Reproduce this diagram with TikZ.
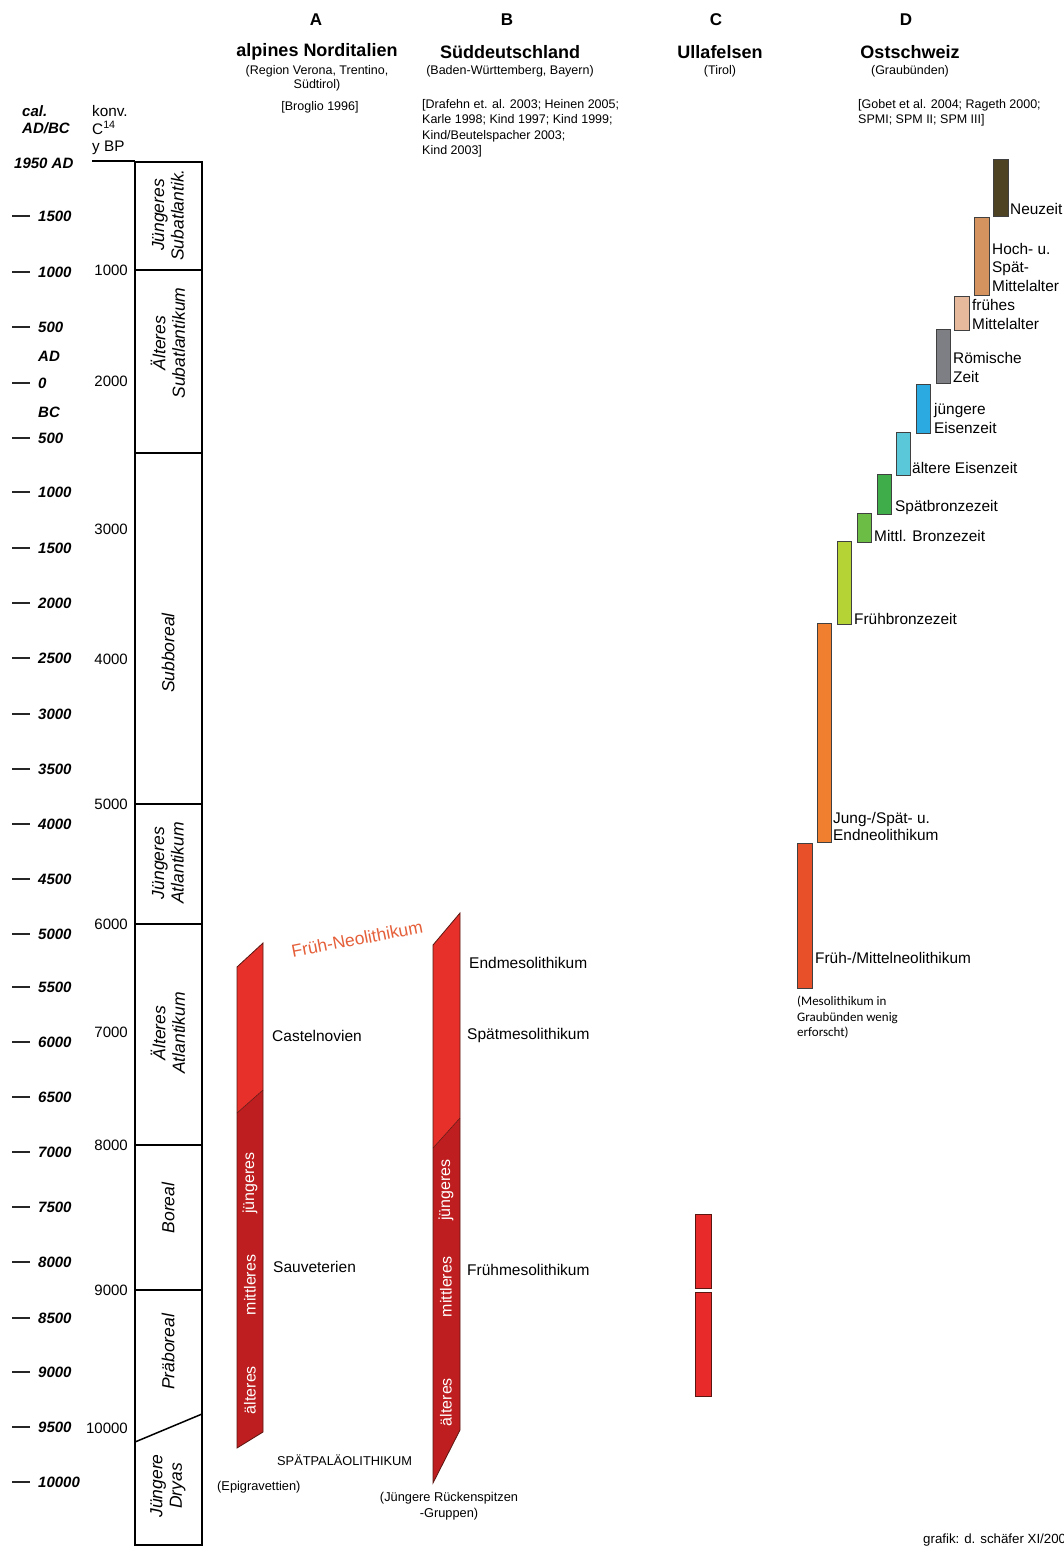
\documentclass[tikz,border=0pt]{standalone}
\usepackage{fontspec}
\setmainfont{Liberation Sans}
\newfontfamily\narrowfont{Carlito}
\definecolor{barbright}{HTML}{E8302A}
\definecolor{bardark}{HTML}{BE1E1F}
\definecolor{barline}{HTML}{5A1712}
\definecolor{neolith}{HTML}{E5603A}
\definecolor{cNeu}{HTML}{4E4323}
\definecolor{cHoch}{HTML}{D4935F}
\definecolor{cFrueMA}{HTML}{E6B99C}
\definecolor{cRom}{HTML}{7E7F84}
\definecolor{cJE}{HTML}{2AAAE0}
\definecolor{cAE}{HTML}{5BC8DA}
\definecolor{cSB}{HTML}{3FAE4A}
\definecolor{cMB}{HTML}{6BBD45}
\definecolor{cFB}{HTML}{B5D334}
\definecolor{cJN}{HTML}{F08030}
\definecolor{cFN}{HTML}{E8502A}
\definecolor{cUlla}{HTML}{E82A2A}
\tikzset{
  colhead/.style={font=\fontsize{17}{19}\selectfont\bfseries},
  region/.style={font=\fontsize{18}{20}\selectfont\bfseries},
  subreg/.style={font=\fontsize{12.5}{14}\selectfont, align=center},
  refs/.style={font=\fontsize{12.5}{15.5}\selectfont, align=left, anchor=north west, inner sep=0pt},
  calnum/.style={font=\fontsize{15}{16}\selectfont\bfseries\itshape, anchor=west, inner sep=0pt},
  bpnum/.style={font=\fontsize{15}{16}\selectfont, anchor=east, inner sep=0pt},
  clim/.style={font=\fontsize{17.5}{19.5}\selectfont\itshape, rotate=90, align=center, inner sep=0pt},
  lab/.style={font=\fontsize{15.5}{17}\selectfont, anchor=west, inner sep=0pt},
  dlab/.style={font=\fontsize{15.4}{18.5}\selectfont, anchor=west, inner sep=0pt, align=left},
  barlab/.style={font=\fontsize{16}{18}\selectfont, text=white, rotate=90, inner sep=0pt},
  small/.style={font=\fontsize{12.8}{14}\selectfont, inner sep=0pt},
  dbar/.style={draw=black!75, line width=1pt},
  tick/.style={line width=2pt, black!85},
  climline/.style={line width=1.5pt}
}
\begin{document}
\begin{tikzpicture}[x=1pt,y=-1pt]
\useasboundingbox[fill=white] (0,0) rectangle (1064,1547);

% column heads
\node[colhead] (hA) at (316,20) {A};
\node[colhead] (hB) at (507,20) {B};
\node[colhead] (hC) at (716,20) {C};
\node[colhead] (hD) at (906,20) {D};

\node[region] (rA) at (317,52) {alpines Norditalien};
\node[subreg] (sA) at (317,78) {(Region Verona, Trentino,\\Südtirol)};
\node[subreg] (fA) at (320,107) {[Broglio 1996]};

\node[region] (rB) at (510,52) {Süddeutschland};
\node[subreg] (sB) at (510,71) {(Baden-Württemberg, Bayern)};
\node[refs] (fB) at (422,99) {[Drafehn et. al. 2003; Heinen 2005;\\Karle 1998; Kind 1997; Kind 1999;\\Kind/Beutelspacher 2003;\\Kind 2003]};

\node[region] (rC) at (720,52) {Ullafelsen};
\node[subreg] (sC) at (720,71) {(Tirol)};

\node[region] (rD) at (910,52) {Ostschweiz};
\node[subreg] (sD) at (910,71) {(Graubünden)};
\node[refs] (fD) at (858,99) {[Gobet et al. 2004; Rageth 2000;\\SPMI; SPM II; SPM III]};

% left axis headings
\node[calnum] (cal1) at (22,111) {cal.};
\node[calnum] (cal2) at (22,128) {AD/BC};
\node[lab, font=\fontsize{15.3}{17}\selectfont] (konv1) at (92,111) {konv.};
\node[lab, font=\fontsize{15.3}{17}\selectfont] (konv2) at (92,128) {C$^{\mathrm{14}}$};
\node[lab, font=\fontsize{15.3}{17}\selectfont] (konv3) at (92,148) {y BP};
\node[calnum] (y1950) at (14,163) {1950 AD};
\coordinate (topL) at (92,161);
\coordinate (topR) at (135,161);
\draw[climline] (topL) -- (topR);

% cal ticks
\foreach \yy/\tt [count=\i] in {216/1500,272/1000,327/500,383/0,438/500,492/1000,548/1500,603/2000,658/2500,714/3000,769/3500,824/4000,879/4500,934/5000,987/5500,1042/6000,1097/6500,1152/7000,1207/7500,1262/8000,1318/8500,1372/9000,1427/9500,1482/10000}{
  \coordinate (ta\i) at (12,\yy);
  \coordinate (tb\i) at (30,\yy);
  \draw[tick] (ta\i) -- (tb\i);
  \node[calnum] (cn\i) at (38,\yy) {\tt};
}
\node[calnum] (ad) at (38,356) {AD};
\node[calnum] (bc) at (38,412) {BC};

% BP numbers
\foreach \yy/\tt [count=\i] in {270/1000,381/2000,529/3000,659/4000,804/5000,924/6000,1032/7000,1145/8000,1290/9000,1428/10000}{
  \node[bpnum] (bp\i) at (128,\yy) {\tt};
}

% climate column
\draw[climline] (135,162) rectangle (202,1545);
\foreach \yy in {270,453,804,924,1145,1290}{
  \draw[climline] (135,\yy) -- (202,\yy);
}
\coordinate (dryL) at (135,1442);
\coordinate (dryR) at (202,1414);
\draw[climline] (dryL) -- (dryR);
\node[clim] (k1) at (168,215) {Jüngeres\\Subatlantik.};
\node[clim] (k2) at (168,343) {Älteres\\Subatlantikum};
\node[clim] (k3) at (168,653) {Subboreal};
\node[clim] (k4) at (168,863) {Jüngeres\\Atlantikum};
\node[clim] (k5) at (168,1033) {Älteres\\Atlantikum};
\node[clim] (k6) at (168,1208) {Boreal};
\node[clim] (k7) at (168,1352) {Präboreal};
\node[clim] (k8) at (168,1486) {Jüngere\\Dryas};

% column A bar
\fill[barbright] (237,967) -- (263,943) -- (263,1090) -- (237,1113) -- cycle;
\fill[bardark] (237,1113) -- (263,1090) -- (263,1432) -- (237,1448) -- cycle;
\draw[barline, line width=0.8pt] (237,967) -- (263,943) -- (263,1432) -- (237,1448) -- cycle;
\draw[barline, line width=0.5pt] (237,1113) -- (263,1090);
\node[barlab] (a1) at (250,1183) {jüngeres};
\node[barlab] (a2) at (250,1285) {mittleres};
\node[barlab] (a3) at (250,1390) {älteres};

% column B bar
\fill[barbright] (433,945) -- (460,913) -- (460,1118) -- (433,1148) -- cycle;
\fill[bardark] (433,1148) -- (460,1118) -- (460,1430) -- (433,1483) -- cycle;
\draw[barline, line width=0.8pt] (433,945) -- (460,913) -- (460,1430) -- (433,1483) -- cycle;
\draw[barline, line width=0.5pt] (433,1148) -- (460,1118);
\node[barlab] (b1) at (446,1190) {jüngeres};
\node[barlab] (b2) at (446,1287) {mittleres};
\node[barlab] (b3) at (446,1402) {älteres};

% labels A / B
\node[font=\fontsize{17.5}{19}\selectfont, text=neolith, rotate=11] (fneo) at (357,939) {Früh-Neolithikum};
\node[lab] (castel) at (272,1036) {Castelnovien};
\node[lab] (sauv) at (273,1267) {Sauveterien};
\node[lab] (endm) at (469,963) {Endmesolithikum};
\node[lab] (spaetm) at (467,1035) {Spätmesolithikum};
\node[lab] (fruehm) at (467,1270) {Frühmesolithikum};
\node[small, anchor=west] (spal) at (277,1460) {SPÄTPALÄOLITHIKUM};
\node[small, anchor=west] (epi) at (217,1487) {(Epigravettien)};
\node[small, align=center, font=\fontsize{12.8}{16.5}\selectfont] (rueck) at (449,1506) {(Jüngere Rückenspitzen\\-Gruppen)};

% column C
\draw[dbar, draw=barline, fill=cUlla] (695,1214) rectangle (711,1288);
\draw[dbar, draw=barline, fill=cUlla] (695,1292) rectangle (711,1396);

% column D
\draw[dbar, fill=cNeu] (993,159) rectangle (1008,216);
\node[dlab] (dNeu) at (1010,209) {Neuzeit};
\draw[dbar, fill=cHoch] (974,217) rectangle (989,295);
\node[dlab] (dHoch) at (992,267) {Hoch- u.\\Spät-\\Mittelalter};
\draw[dbar, fill=cFrueMA] (954,296) rectangle (969,330);
\node[dlab] (dFrMA) at (972,314.5) {frühes\\Mittelalter};
\draw[dbar, fill=cRom] (936,329) rectangle (950,383);
\node[dlab] (dRom) at (953,367.5) {Römische\\Zeit};
\draw[dbar, fill=cJE] (916,384) rectangle (930,433);
\node[dlab] (dJE) at (934,418.5) {jüngere\\Eisenzeit};
\draw[dbar, fill=cAE] (896,432) rectangle (910,475);
\node[dlab] (dAE) at (912,468) {ältere Eisenzeit};
\draw[dbar, fill=cSB] (877,474) rectangle (891,514);
\node[dlab] (dSB) at (895,508) {Spätbronzezeit};
\draw[dbar, fill=cMB] (857,513) rectangle (871,542);
\node[dlab] (dMB) at (874,536) {Mittl. Bronzezeit};
\draw[dbar, fill=cFB] (837,541) rectangle (851,624);
\node[dlab] (dFB) at (854,619) {Frühbronzezeit};
\draw[dbar, fill=cJN] (817,623) rectangle (831,842);
\node[dlab, font=\fontsize{15.4}{17}\selectfont] (dJN) at (833,826) {Jung-/Spät- u.\\Endneolithikum};
\draw[dbar, fill=cFN] (797,843) rectangle (812,988);
\node[dlab] (dFN) at (815,958) {Früh-/Mittelneolithikum};
\node[anchor=north west, inner sep=0pt, align=left, font=\narrowfont\fontsize{13}{15.5}\selectfont] (meso) at (797,996) {(Mesolithikum in\\Graubünden wenig\\erforscht)};

\node[small, anchor=west, font=\fontsize{13.3}{14}\selectfont] (credit) at (923,1540) {grafik: d. schäfer XI/2007};
\end{tikzpicture}
\end{document}
